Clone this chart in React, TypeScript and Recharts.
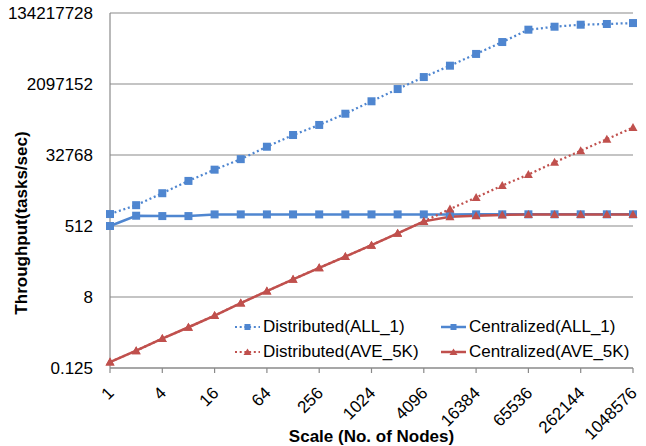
import React from 'react';
import { LineChart, Line, XAxis, YAxis, CartesianGrid } from 'recharts';

// scale (number of nodes), powers of 2
const nodes = [
  1, 2, 4, 8, 16, 32, 64, 128, 256, 512, 1024, 2048, 4096, 8192, 16384, 32768,
  65536, 131072, 262144, 524288, 1048576,
];

// throughput (tasks/sec)
const distributedAll1 = [
  1031, 1734, 3492, 7180, 13870, 25700, 53200, 105700, 190500, 368000, 762000,
  1560000, 3150000, 6130000, 12200000, 24500000, 50500000, 60100000, 67600000,
  70500000, 74500000,
];
const centralizedAll1 = [
  512, 935, 916, 916, 1010, 1010, 1010, 1010, 1010, 1010, 1010, 1010, 1010, 1010,
  1012, 1015, 1015, 1015, 1015, 1015, 1015,
];
const distributedAve5k = [
  0.177, 0.344, 0.7, 1.36, 2.69, 5.6, 11.3, 22.6, 44.3, 85.6, 167, 333, 671, 1380,
  2720, 5480, 10440, 21300, 42000, 82900, 163500,
];
const centralizedAve5k = [
  0.177, 0.344, 0.7, 1.36, 2.69, 5.6, 11.3, 22.6, 44.3, 85.6, 167, 333, 671, 880,
  935, 980, 1000, 1010, 1010, 1010, 1010,
];

const yTicks = [0.125, 8, 512, 32768, 2097152, 134217728];

const BLUE = '#4F86D0';
const RED = '#C0504D';
const GRID = '#8A8A8A';
const FONT = '"Liberation Sans", Arial, sans-serif';
const DOTS = '2 2.7';

const data = nodes.map((n, i) => ({
  n: String(n),
  distAll1: distributedAll1[i],
  centAll1: centralizedAll1[i],
  distAve: distributedAve5k[i],
  centAve: centralizedAve5k[i],
}));

const Square = (props: any) => {
  const { cx, cy, index } = props;
  if (cx == null || cy == null) return <g key={index} />;
  return <rect key={index} x={cx - 4} y={cy - 4} width={8} height={8} fill={BLUE} />;
};

const Triangle = (props: any) => {
  const { cx, cy, index } = props;
  if (cx == null || cy == null) return <g key={index} />;
  return (
    <path
      key={index}
      d={`M${cx},${cy - 4.5} L${cx + 4.5},${cy + 3.5} L${cx - 4.5},${cy + 3.5} Z`}
      fill={RED}
    />
  );
};

const XTick = (props: any) => {
  const { x, y, payload } = props;
  const ax = x + 5;
  const ay = y + 19;
  return (
    <text
      x={ax}
      y={ay}
      transform={`rotate(-45, ${ax}, ${ay})`}
      textAnchor="end"
      fontSize={17}
      fontFamily={FONT}
      fill="#000"
    >
      {payload.value}
    </text>
  );
};

const YTick = (props: any) => {
  const { x, y, payload } = props;
  return (
    <text x={x - 9} y={y} dy="0.35em" textAnchor="end" fontSize={17} fontFamily={FONT} fill="#000">
      {payload.value}
    </text>
  );
};

const legendItems = [
  { name: 'Distributed(ALL_1)', color: BLUE, dashed: true, marker: 'square', left: 235, top: 327 },
  { name: 'Centralized(ALL_1)', color: BLUE, dashed: false, marker: 'square', left: 441, top: 327 },
  { name: 'Distributed(AVE_5K)', color: RED, dashed: true, marker: 'triangle', left: 235, top: 352 },
  { name: 'Centralized(AVE_5K)', color: RED, dashed: false, marker: 'triangle', left: 441, top: 352 },
];

function LegendBox() {
  return (
    <>
      {legendItems.map((it) => (
        <div
          key={it.name}
          style={{
            position: 'absolute',
            left: it.left,
            top: it.top - 10,
            height: 20,
            display: 'flex',
            alignItems: 'center',
            fontFamily: FONT,
            fontSize: 17,
            color: '#000',
            whiteSpace: 'nowrap',
          }}
        >
          <svg width={27} height={20} style={{ display: 'block', marginRight: 1 }}>
            <line
              x1={0}
              y1={10}
              x2={25}
              y2={10}
              stroke={it.color}
              strokeWidth={it.dashed ? 2 : 2.5}
              strokeDasharray={it.dashed ? DOTS : undefined}
            />
            {it.marker === 'square' ? (
              <rect x={9.5} y={7} width={6} height={6} fill={it.color} />
            ) : (
              <path d="M12.5,6.5 L16.5,13 L8.5,13 Z" fill={it.color} />
            )}
          </svg>
          <span>{it.name}</span>
        </div>
      ))}
    </>
  );
}

export default function App() {
  return (
    <div style={{ position: 'absolute', left: 0, top: 0, width: 646, height: 446, background: '#fff' }}>
      <LineChart
        width={646}
        height={446}
        data={data}
        margin={{ top: 13, right: 13, bottom: 0, left: 0 }}
      >
        <CartesianGrid vertical={false} stroke={GRID} strokeWidth={1.2} />
        <XAxis
          dataKey="n"
          interval={1}
          height={78}
          stroke={GRID}
          strokeWidth={1.2}
          tickSize={5}
          tick={<XTick />}
          label={{
            value: 'Scale (No. of Nodes)',
            position: 'insideBottom',
            offset: 4,
            fontSize: 17,
            fontWeight: 'bold',
            fontFamily: FONT,
            fill: '#000',
          }}
        />
        <YAxis
          type="number"
          scale="log"
          domain={[0.125, 134217728]}
          ticks={yTicks}
          allowDataOverflow
          width={110}
          stroke={GRID}
          strokeWidth={1.2}
          tickLine={false}
          tick={<YTick />}
        />
        <Line
          dataKey="distAll1"
          stroke={BLUE}
          strokeWidth={2.25}
          strokeDasharray={DOTS}
          dot={Square}
          isAnimationActive={false}
        />
        <Line
          dataKey="centAll1"
          stroke={BLUE}
          strokeWidth={2.5}
          dot={Square}
          isAnimationActive={false}
        />
        <Line
          dataKey="distAve"
          stroke={RED}
          strokeWidth={2.25}
          strokeDasharray={DOTS}
          dot={Triangle}
          isAnimationActive={false}
        />
        <Line
          dataKey="centAve"
          stroke={RED}
          strokeWidth={2.5}
          dot={Triangle}
          isAnimationActive={false}
        />
      </LineChart>
      <div
        style={{
          position: 'absolute',
          left: 22,
          top: 223,
          transform: 'translate(-50%, -50%) rotate(-90deg)',
          fontFamily: FONT,
          fontSize: 17,
          fontWeight: 'bold',
          whiteSpace: 'nowrap',
          color: '#000',
        }}
      >
        Throughput(tasks/sec)
      </div>
      <LegendBox />
    </div>
  );
}
